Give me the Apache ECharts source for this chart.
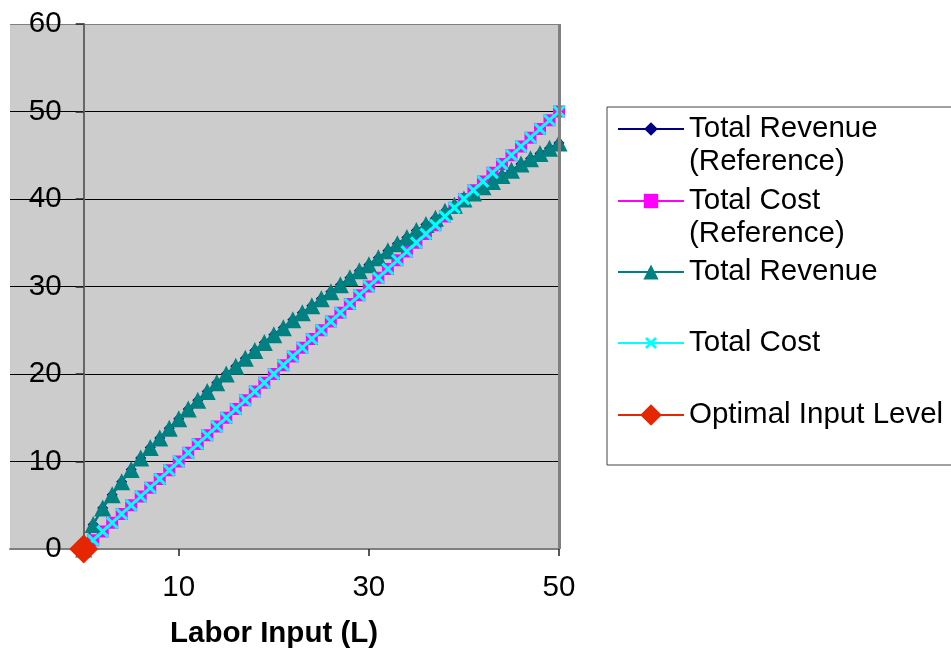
<!DOCTYPE html>
<html>
<head>
<meta charset="utf-8">
<script src="https://cdn.jsdelivr.net/npm/echarts@6/dist/echarts.min.js"></script>
<style>
  html, body { margin: 0; padding: 0; background: #fff; }
  #chart { width: 951px; height: 653px; }
</style>
</head>
<body>
<div id="chart"></div>
<script>
// labor input L, one point per unit
const labor = [0, 1, 2, 3, 4, 5, 6, 7, 8, 9, 10, 11, 12, 13, 14, 15, 16, 17, 18, 19, 20,
  21, 22, 23, 24, 25, 26, 27, 28, 29, 30, 31, 32, 33, 34, 35, 36, 37, 38, 39, 40,
  41, 42, 43, 44, 45, 46, 47, 48, 49, 50];

const totalRevenueRef = [0, 2.8, 4.7, 6.2, 7.7, 9.1, 10.4, 11.6, 12.7, 13.8, 14.9,
  16.0, 17.0, 18.0, 19.0, 20.0, 20.9, 21.8, 22.7, 23.6, 24.5,
  25.3, 26.2, 27.0, 27.8, 28.6, 29.4, 30.2, 31.0, 31.8, 32.5,
  33.3, 34.1, 34.9, 35.6, 36.4, 37.1, 37.8, 38.6, 39.3, 40.0,
  40.7, 41.4, 42.0, 42.7, 43.3, 44.0, 44.6, 45.2, 45.8, 46.4];

const totalCostRef = [0, 1, 2, 3, 4, 5, 6, 7, 8, 9, 10, 11, 12, 13, 14, 15, 16, 17, 18, 19, 20,
  21, 22, 23, 24, 25, 26, 27, 28, 29, 30, 31, 32, 33, 34, 35, 36, 37, 38, 39, 40,
  41, 42, 43, 44, 45, 46, 47, 48, 49, 50];

const totalRevenue = [0, 2.8, 4.7, 6.2, 7.7, 9.1, 10.4, 11.6, 12.7, 13.8, 14.9,
  16.0, 17.0, 18.0, 19.0, 20.0, 20.9, 21.8, 22.7, 23.6, 24.5,
  25.3, 26.2, 27.0, 27.8, 28.6, 29.4, 30.2, 31.0, 31.8, 32.5,
  33.3, 34.1, 34.9, 35.6, 36.4, 37.1, 37.8, 38.6, 39.3, 40.0,
  40.7, 41.4, 42.0, 42.7, 43.3, 44.0, 44.6, 45.2, 45.8, 46.4];

const totalCost = [0, 1, 2, 3, 4, 5, 6, 7, 8, 9, 10, 11, 12, 13, 14, 15, 16, 17, 18, 19, 20,
  21, 22, 23, 24, 25, 26, 27, 28, 29, 30, 31, 32, 33, 34, 35, 36, 37, 38, 39, 40,
  41, 42, 43, 44, 45, 46, 47, 48, 49, 50];

const optimalL = [0];
const optimalValue = [0];

const xTickLabels = [10, 30, 50];
const seriesNames = ['Total Revenue (Reference)', 'Total Cost (Reference)', 'Total Revenue', 'Total Cost', 'Optimal Input Level'];
// a blank first line keeps the icon level with the first real line of a wrapped name
const legendLabels = ['\u00a0\nTotal Revenue\n(Reference)', '\u00a0\nTotal Cost\n(Reference)', 'Total Revenue', 'Total Cost', 'Optimal Input Level'];

const FONT = '"Liberation Sans", Arial, sans-serif';
const FS = 29.5;
const LH = 33;
const crossSymbol = 'path://M0,2 L2,0 L6,4 L10,0 L12,2 L8,6 L12,10 L10,12 L6,8 L2,12 L0,10 L4,6 Z';

const X_MIN = -7.75;
const X_MAX = 50;
const GRID_LEFT = 10;
const GRID_RIGHT = 392;
// y axis crosses at L = 0, so push it right from the grid edge
const plotW = 951 - GRID_LEFT - GRID_RIGHT;
const yAxisShift = -(0 - X_MIN) / (X_MAX - X_MIN) * plotW;

const pairs = (ys) => labor.map((x, i) => [x, ys[i]]);

const chart = echarts.init(document.getElementById('chart'));

// one legend box per entry so each row can be placed like excel does
const legendCenters = [129, 201, 272, 343, 415];
const legendIconH = [17, 18, 19, 15, 27];
const legends = seriesNames.map((name, i) => {
  const lines = legendLabels[i].split('\n').length;
  return {
    data: [name],
    left: 617,
    top: legendCenters[i] - lines * LH / 2,
    orient: 'vertical',
    padding: 0,
    itemWidth: 66,
    itemHeight: legendIconH[i],
    selectedMode: false,
    formatter: () => legendLabels[i],
    textStyle: { fontFamily: FONT, fontSize: FS, color: '#000', lineHeight: LH }
  };
});

const option = {
  animation: false,
  textStyle: { fontFamily: FONT },
  grid: {
    left: GRID_LEFT,
    right: GRID_RIGHT,
    top: 24,
    bottom: 104,
    containLabel: false,
    outerBoundsMode: 'none',
    show: true,
    backgroundColor: '#CCCCCC',
    borderWidth: 0
  },
  legend: legends,
  graphic: [{
    type: 'rect',
    shape: { x: 607, y: 107, width: 360, height: 358 },
    style: { fill: 'none', stroke: '#444', lineWidth: 1 },
    silent: true,
    z: -1
  }, {
    type: 'text',
    left: 170,
    top: 619,
    style: { text: 'Labor Input (L)', fontFamily: FONT, fontSize: FS, fontWeight: 'bold', fill: '#000' }
  }],
  xAxis: {
    type: 'value',
    min: X_MIN,
    max: X_MAX,
    axisLine: { show: true, onZero: false, lineStyle: { color: '#7f7f7f', width: 2 } },
    axisTick: { show: true, customValues: xTickLabels, length: 7, lineStyle: { color: '#222', width: 1.5 } },
    axisLabel: { customValues: xTickLabels, fontSize: FS, color: '#000', margin: 24, fontFamily: FONT },
    splitLine: { show: false }
  },
  yAxis: {
    type: 'value',
    min: 0,
    max: 60,
    interval: 10,
    offset: yAxisShift,
    axisLine: { show: true, onZero: false, lineStyle: { color: '#666', width: 2 } },
    axisTick: { show: true, length: 8, lineStyle: { color: '#222', width: 1.5 } },
    axisLabel: { fontSize: FS, color: '#000', margin: 22, fontFamily: FONT },
    splitLine: {
      show: true,
      lineStyle: { color: ['#000', '#000', '#000', '#000', '#000', '#000', '#808080'], width: 1.2 }
    }
  },
  series: [
    {
      name: seriesNames[0],
      type: 'line',
      data: pairs(totalRevenueRef),
      symbol: 'diamond',
      symbolSize: 11,
      itemStyle: { color: '#000080' },
      lineStyle: { color: '#000080', width: 2 },
      markLine: {
        silent: true,
        symbol: ['none', 'none'],
        label: { show: false },
        lineStyle: { color: '#808080', width: 3, type: 'solid' },
        data: [{ xAxis: 50 }]
      }
    },
    {
      name: seriesNames[1],
      type: 'line',
      data: pairs(totalCostRef),
      symbol: 'rect',
      symbolSize: 12,
      itemStyle: { color: '#FF00FF' },
      lineStyle: { color: '#FF00FF', width: 2 }
    },
    {
      name: seriesNames[2],
      type: 'line',
      data: pairs(totalRevenue),
      symbol: 'triangle',
      symbolSize: 17,
      itemStyle: { color: '#008080' },
      lineStyle: { color: '#008080', width: 2 }
    },
    {
      name: seriesNames[3],
      type: 'line',
      data: pairs(totalCost),
      symbol: crossSymbol,
      symbolSize: 13,
      itemStyle: { color: '#00FFFF' },
      lineStyle: { color: '#00FFFF', width: 2.5 }
    },
    {
      name: seriesNames[4],
      type: 'line',
      data: optimalL.map((x, i) => [x, optimalValue[i]]),
      symbol: 'diamond',
      symbolSize: 29,
      clip: false,
      itemStyle: { color: '#E52600' },
      lineStyle: { color: '#E52600', width: 2 }
    }
  ]
};

chart.setOption(option);
</script>
</body>
</html>
